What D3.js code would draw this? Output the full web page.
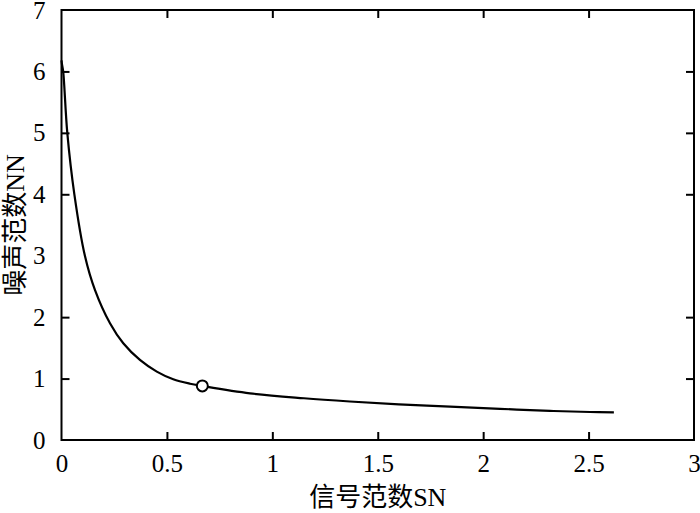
<!DOCTYPE html>
<html>
<head>
<meta charset="utf-8">
<script src="https://cdn.jsdelivr.net/npm/d3@7"></script>
<style>
  body { margin: 0; background: #fff; }
</style>
</head>
<body>
<svg id="chart" width="700" height="513"></svg>
<script>
// curve: signal norm SN vs noise norm NN
var snVals = [0, 0.003, 0.008, 0.0275, 0.061, 0.111, 0.159, 0.23, 0.293, 0.372, 0.452, 0.53, 0.61, 0.668, 0.894, 1.15, 1.368, 1.6, 1.843, 2.08, 2.317, 2.507, 2.62];
var nnVals = [6.18, 6.1, 6.0, 5.0, 4.0, 3.0, 2.44, 1.9, 1.574, 1.303, 1.113, 0.988, 0.916, 0.88, 0.76, 0.68, 0.627, 0.58, 0.543, 0.508, 0.474, 0.456, 0.45];
// the marked point (corner)
var markSN = [0.668];
var markNN = [0.88];
var xTicks = [0, 0.5, 1, 1.5, 2, 2.5, 3];
var yTicks = [0, 1, 2, 3, 4, 5, 6, 7];

var FONT = "'Liberation Serif', 'Times New Roman', 'Noto Sans CJK SC', serif";

var svg = d3.select("#chart");
var m = {left: 61.5, right: 694, top: 10, bottom: 440};

var x = d3.scaleLinear().domain([0, 3]).range([m.left, m.right]);
var y = d3.scaleLinear().domain([0, 7]).range([m.bottom, m.top]);
var fmt = d3.format("~g");

// frame
svg.append("rect")
  .attr("x", m.left).attr("y", m.top)
  .attr("width", m.right - m.left).attr("height", m.bottom - m.top)
  .attr("fill", "none").attr("stroke", "#000").attr("stroke-width", 2);

function styleAxis(g) {
  g.select(".domain").remove();
  g.selectAll("line").attr("stroke", "#000").attr("stroke-width", 2);
  g.selectAll("text").attr("fill", "#000")
    .style("font-family", FONT).style("font-size", "25px");
}

svg.append("g").attr("transform", "translate(0," + m.bottom + ")")
  .call(d3.axisBottom(x).tickValues(xTicks).tickSizeInner(-8).tickSizeOuter(0).tickPadding(14).tickFormat(fmt))
  .call(styleAxis);
svg.append("g").attr("transform", "translate(0," + m.top + ")")
  .call(d3.axisTop(x).tickValues(xTicks).tickSizeInner(-8).tickSizeOuter(0).tickFormat(""))
  .call(styleAxis);
svg.append("g").attr("transform", "translate(" + m.left + ",0)")
  .call(d3.axisLeft(y).tickValues(yTicks).tickSizeInner(-8).tickSizeOuter(0).tickPadding(16).tickFormat(fmt))
  .call(styleAxis);
svg.append("g").attr("transform", "translate(" + m.right + ",0)")
  .call(d3.axisRight(y).tickValues(yTicks).tickSizeInner(-8).tickSizeOuter(0).tickFormat(""))
  .call(styleAxis);

// hide tick marks sitting on the frame corners
svg.selectAll(".tick").filter(function(d) { return d === 0 || d === 3 || d === 7; })
  .select("line").attr("stroke", "none");

var line = d3.line()
  .x(function(d, i) { return x(snVals[i]); })
  .y(function(d, i) { return y(nnVals[i]); })
  .curve(d3.curveCatmullRom.alpha(0.5));

svg.append("path")
  .datum(snVals)
  .attr("d", line)
  .attr("fill", "none").attr("stroke", "#000").attr("stroke-width", 2.2);

svg.selectAll(".mark").data(markSN).enter().append("circle")
  .attr("cx", function(d) { return x(d); })
  .attr("cy", function(d, i) { return y(markNN[i]); })
  .attr("r", 5.5)
  .attr("fill", "#fff").attr("stroke", "#000").attr("stroke-width", 2);

svg.append("text")
  .attr("x", (m.left + m.right) / 2).attr("y", 506)
  .attr("text-anchor", "middle")
  .style("font-family", FONT).style("font-size", "26px")
  .text("信号范数SN");

svg.append("text")
  .attr("transform", "translate(24," + (m.top + m.bottom) / 2 + ") rotate(-90)")
  .attr("text-anchor", "middle")
  .style("font-family", FONT).style("font-size", "26px")
  .text("噪声范数NN");
</script>
</body>
</html>
